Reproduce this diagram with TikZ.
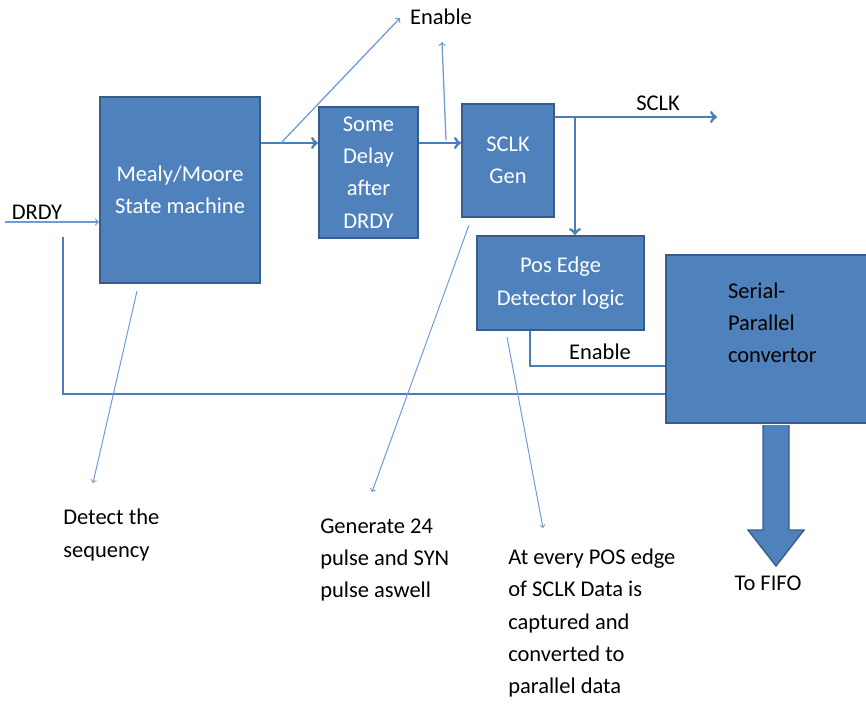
\documentclass[tikz,border=0pt]{standalone}
\usepackage{fontspec}
\setmainfont{Carlito}
\newcommand{\txt}{\fontsize{16}{23}\selectfont}
\definecolor{boxfill}{HTML}{4F81BD}
\definecolor{boxline}{HTML}{385D8A}
\definecolor{wire}{HTML}{4A7EBB}
\definecolor{notewire}{HTML}{6F9AD6}
\begin{document}
\begin{tikzpicture}[
            x=0.025cm, y=-0.025cm,
            blk/.style={draw=boxline,fill=boxfill,line width=1.4pt,rectangle,anchor=north west,text=white,align=center,inner sep=0pt,font=\txt},
            lbl/.style={inner sep=0pt,align=left,font=\txt},
            w/.style={draw=wire,line width=2pt},
            fine/.style={draw=notewire,line width=0.9pt},
            note/.style={draw=notewire,line width=0.7pt}
        ]

        \useasboundingbox (0,0) rectangle (866,705);

        \node[blk,minimum width=4cm,minimum height=4.65cm] (mealy) at (99,96) {Mealy/Moore\\State machine};
        \node[blk,minimum width=2.475cm,minimum height=3.275cm] (delay) at (318,106) {Some\\Delay\\after\\DRDY};
        \node[blk,minimum width=2.3cm,minimum height=2.825cm] (gen) at (461,103) {SCLK\\Gen};
        \node[blk,minimum width=4.175cm,minimum height=2.35cm] (pos) at (476,235) {Pos Edge\\Detector logic};
        \node[blk,minimum width=5.5cm,minimum height=4.2cm,text=black] (serial) at (665,254) {\parbox{2.4cm}{\raggedright Serial-\\Parallel\\convertor\\\mbox{}}};

        % big arrow to the FIFO
        \fill[boxfill,draw=boxline,line width=1pt] ([yshift=-0.7pt]serial.south) ++(-13,0) -- ++(0,105) -- ++(-15,0) -- ++(28,36) -- ++(28,-36) -- ++(-15,0) -- ++(0,-105);

        % labels
        \node[lbl] (drdy) at (37,212) {DRDY};
        \node[lbl] (entop) at (441,17) {Enable};
        \node[lbl] (sclklbl) at (658,103) {SCLK};
        \node[lbl] (enlow) at (600,352) {Enable};
        \node[lbl] (fifo) at (768,583) {To FIFO};
        \node[lbl,anchor=west] (detect) at (63,535) {Detect the\\sequency};
        \node[lbl,anchor=west] (pulse) at (320,560) {Generate 24\\pulse and SYN\\pulse aswell};
        \node[lbl,anchor=west] (capture) at (508,623) {At every POS edge\\of SCLK Data is\\captured and\\converted to\\parallel data};

        \coordinate (lvl) at (0,143);
        \coordinate (sclk) at (0,117);
        \coordinate (din) at (5,222);
        \coordinate (dtap) at (63,237);
        \coordinate (dl) at (0,394);
        \coordinate (br1) at (281,143);
        \coordinate (en1) at (400,18);
        \coordinate (br2) at (446,140);
        \coordinate (en2) at (442,42);
        \coordinate (tap) at (575,117);
        \coordinate (sclkend) at (717,117);
        \coordinate (enl) at (530,366);
        \coordinate (n1a) at (137,291);
        \coordinate (n1b) at (93,483);
        \coordinate (n2a) at (469,225);
        \coordinate (n2b) at (372,492);
        \coordinate (n3a) at (507,337);
        \coordinate (n3b) at (543,528);

        \draw[w]
            (mealy.east |- lvl) edge[->] (delay.west |- lvl)
            (delay.east |- lvl) edge[->] (gen.west |- lvl)
            (gen.east |- sclk) edge[->] (sclkend)
            (tap) edge[->] (tap |- pos.north)
        ;
        \draw[w] (dtap) |- (serial.west |- dl);
        \draw[w] (enl |- pos.south) |- (serial.west |- enl);

        \draw[fine]
            (din) edge[->] (din -| mealy.west)
            (br1) edge[->] (en1)
            (br2) edge[->] (en2)
        ;
        \draw[note]
            (n1a) edge[->] (n1b)
            (n2a) edge[->] (n2b)
            (n3a) edge[->] (n3b)
        ;

\end{tikzpicture}
\end{document}
